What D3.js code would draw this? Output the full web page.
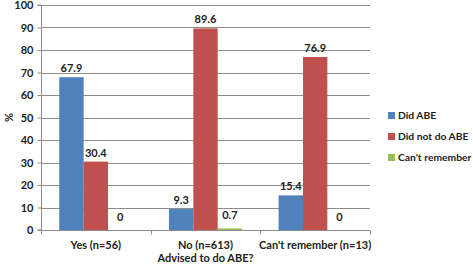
<!DOCTYPE html>
<html>
<head>
<meta charset="utf-8">
<script src="https://cdn.jsdelivr.net/npm/d3@7"></script>
<style>
  body { margin: 0; background: #fff; }
  text { font-family: Lato, "Open Sans", sans-serif; }
</style>
</head>
<body>
<script>
// chart data
var categories = ["Yes (n=56)", "No (n=613)", "Can't remember (n=13)"];
var series = ["Did ABE", "Did not do ABE", "Can't remember"];
var didABE = [67.9, 9.3, 15.4];
var didNotDoABE = [30.4, 89.6, 76.9];
var cantRemember = [0, 0.7, 0];
var yTicks = [0, 10, 20, 30, 40, 50, 60, 70, 80, 90, 100];
var colors = ["#4f81bd", "#c0504d", "#9bbb59"];

(function () {
    var values = [didABE, didNotDoABE, cantRemember];
    var width = 473, height = 266;
    var mLeft = 41, mRight = 370, mTop = 5, mBottom = 230;

    var svg = d3.select("body").append("svg")
        .attr("width", width).attr("height", height);

    var x = d3.scaleBand().domain(categories).range([mLeft, mRight]);
    var xs = d3.scaleBand().domain(series).range([0, x.bandwidth()]).paddingOuter(0.75);
    var y = d3.scaleLinear().domain([0, 100]).range([mBottom, mTop]);

    // gridlines
    svg.append("g").selectAll("line").data(yTicks.slice(1)).join("line")
        .attr("x1", mLeft).attr("x2", mRight)
        .attr("y1", function (d) { return Math.round(y(d)) + 0.5; })
        .attr("y2", function (d) { return Math.round(y(d)) + 0.5; })
        .attr("stroke", "#8c8c8c").attr("stroke-width", 1);

    // bars
    var groups = svg.append("g").selectAll("g").data(categories).join("g")
        .attr("transform", function (d) { return "translate(" + x(d) + ",0)"; });

    groups.each(function (cat, i) {
        var g = d3.select(this);
        var rows = series.map(function (s, j) { return { s: s, v: values[j][i], c: colors[j] }; });
        g.selectAll("rect").data(rows).join("rect")
            .attr("x", function (d) { return xs(d.s); })
            .attr("width", xs.bandwidth())
            .attr("y", function (d) { return y(d.v); })
            .attr("height", function (d) { return mBottom - y(d.v); })
            .attr("fill", function (d) { return d.c; });
        g.selectAll("text").data(rows).join("text")
            .attr("x", function (d) { return xs(d.s) + xs.bandwidth() / 2; })
            .attr("y", function (d) { return y(d.v) - (d.v < 3 ? 9 : 5); })
            .attr("text-anchor", "middle")
            .attr("font-size", 11).attr("font-weight", "bold").attr("fill", "#222")
            .text(function (d) { return d.v; });
    });

    // y axis
    var yAxis = svg.append("g").attr("transform", "translate(" + (mLeft + 0.5) + ",0)")
        .call(d3.axisLeft(y).tickValues(yTicks).tickSize(4).tickPadding(4));
    yAxis.select(".domain").attr("stroke", "#8c8c8c").attr("d", "M-4," + mTop + "H0V" + mBottom + "H-4");
    yAxis.selectAll(".tick line").attr("stroke", "#8c8c8c");
    yAxis.selectAll(".tick text").attr("font-family", "Lato, sans-serif")
        .attr("font-size", 11).attr("font-weight", "bold").attr("fill", "#222");

    // x axis
    var xAxis = svg.append("g").attr("transform", "translate(0," + (mBottom + 0.5) + ")");
    xAxis.append("line").attr("x1", mLeft).attr("x2", mRight).attr("stroke", "#8c8c8c");
    xAxis.selectAll("line.tk").data(categories.concat([null])).join("line")
        .attr("class", "tk")
        .attr("x1", function (d, i) { return Math.round(mLeft + i * x.step()) + 0.5; })
        .attr("x2", function (d, i) { return Math.round(mLeft + i * x.step()) + 0.5; })
        .attr("y1", 0).attr("y2", 4).attr("stroke", "#8c8c8c");
    xAxis.selectAll("text").data(categories).join("text")
        .attr("x", function (d) { return x(d) + x.bandwidth() / 2; })
        .attr("y", 18)
        .attr("text-anchor", "middle").attr("font-size", 11).attr("font-weight", "bold").attr("fill", "#222")
        .text(function (d) { return d; });

    svg.append("text")
        .attr("x", (mLeft + mRight) / 2).attr("y", 262)
        .attr("text-anchor", "middle").attr("font-size", 11).attr("font-weight", "bold").attr("fill", "#222")
        .text("Advised to do ABE?");

    svg.append("text")
        .attr("transform", "translate(13," + ((mTop + mBottom) / 2) + ") rotate(-90)")
        .attr("text-anchor", "middle").attr("font-size", 11).attr("font-weight", "bold").attr("fill", "#222")
        .text("%");

    // legend
    var legend = svg.append("g").selectAll("g").data(series).join("g")
        .attr("transform", function (d, i) { return "translate(388," + (119 + i * 21) + ")"; });
    legend.append("rect").attr("x", 0).attr("y", -7).attr("width", 7).attr("height", 7)
        .attr("fill", function (d, i) { return colors[i]; });
    legend.append("text").attr("x", 10).attr("y", 0)
        .attr("font-size", 10.3).attr("font-weight", "bold").attr("fill", "#222")
        .text(function (d) { return d; });
})();
</script>
</body>
</html>
